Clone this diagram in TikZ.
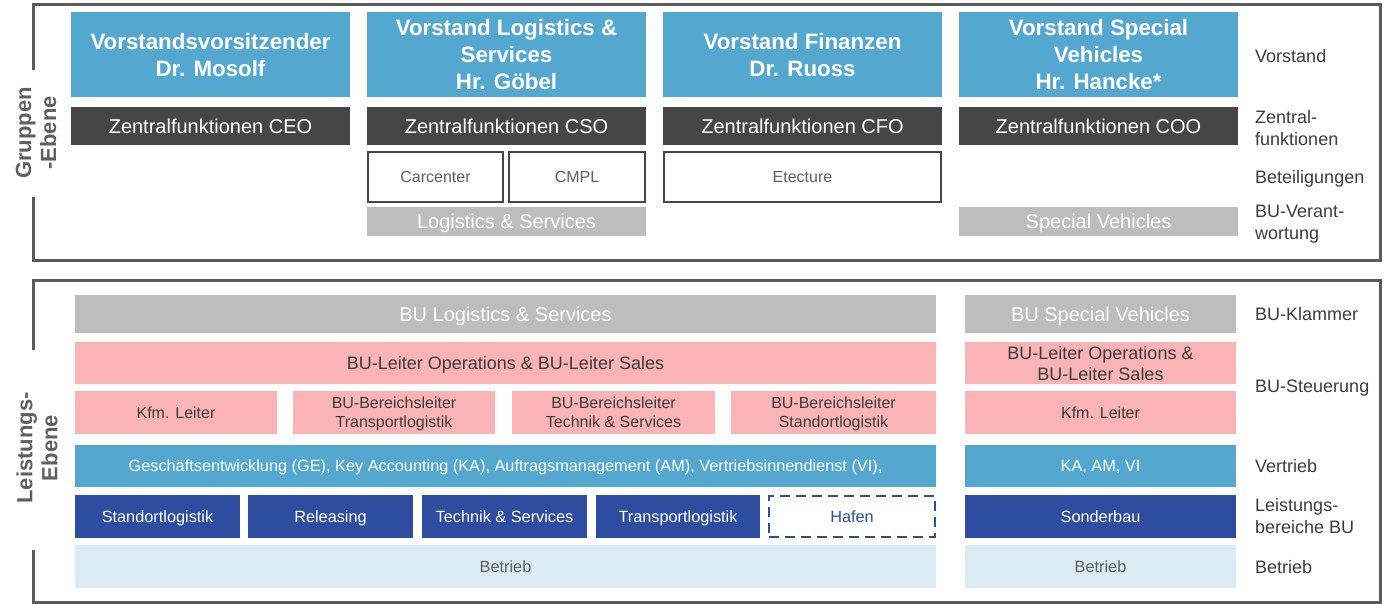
\documentclass[tikz,border=0pt]{standalone}
\usepackage{fontspec}
\setmainfont{Liberation Sans}
\definecolor{vblue}{RGB}{84,167,207}
\definecolor{dgray}{RGB}{70,70,70}
\definecolor{lgray}{RGB}{189,189,189}
\definecolor{pinkc}{RGB}{250,180,182}
\definecolor{nblue}{RGB}{46,77,161}
\definecolor{pblue}{RGB}{219,235,243}
\definecolor{frmc}{RGB}{90,90,90}
\definecolor{txt}{RGB}{60,60,60}
\definecolor{txtl}{RGB}{95,95,95}
\newcommand\bx[7]{\node[#6, minimum width={#4-#2}, minimum height={#5-#3}] (#1) at ({(#2+#4)/2},{(#3+#5)/2}) {#7};}
\tikzset{
 cell/.style={inner sep=0pt, align=center, text depth=0pt},
 vorst/.style={cell, fill=vblue, text=white, font=\fontsize{22.3}{27}\selectfont\bfseries},
 zent/.style={cell, fill=dgray, text=white, font=\fontsize{20}{24}\selectfont},
 beteil/.style={cell, fill=white, draw=dgray, line width=2.5pt, text=txtl, font=\fontsize{16}{19}\selectfont},
 buv/.style={cell, fill=lgray, text=white, font=\fontsize{20}{24}\selectfont},
 buk/.style={cell, fill=lgray, text=white, font=\fontsize{20}{24}\selectfont},
 leit/.style={cell, fill=pinkc, text=txt, font=\fontsize{18}{21}\selectfont},
 bber/.style={cell, fill=pinkc, text=txt, font=\fontsize{16}{19}\selectfont},
 vert/.style={cell, fill=vblue, text=white, font=\fontsize{16.3}{19}\selectfont},
 lb/.style={cell, fill=nblue, text=white, font=\fontsize{16.3}{19}\selectfont},
 hafen/.style={cell, fill=white, draw=nblue, dash pattern=on 10pt off 6pt, line width=2.5pt, text=nblue, font=\fontsize{16.3}{19}\selectfont},
 betr/.style={cell, fill=pblue, text=txtl, font=\fontsize{16.3}{19}\selectfont},
 lab/.style={inner sep=0pt, text depth=0pt, anchor=west, align=left, text=txt, font=\fontsize{18}{22}\selectfont},
 side/.style={inner sep=0pt, text depth=0pt, rotate=90, align=center, text=txtl, font=\fontsize{22}{25}\selectfont\bfseries},
 frm/.style={draw=frmc, line width=3pt},
}
\begin{document}
\begin{tikzpicture}[x=1pt,y=-1pt]
\useasboundingbox (0,0) rectangle (1389,604);
% frames
\draw[frm] (33,70) -- (33,5) -- (1380,5) -- (1380,260) -- (33,260) -- (33,197);
\draw[frm] (33,350) -- (33,280) -- (1380,280) -- (1380,602) -- (33,602) -- (33,550);
\node[side] (grp) at (36,133) {Gruppen\\-Ebene};
\node[side] (lst) at (37,448) {Leistungs-\\Ebene};
% Vorstand
\bx{v1}{71}{12}{350}{97}{vorst}{Vorstandsvorsitzender\\Dr. Mosolf}
\bx{v2}{367}{12}{646}{97}{vorst}{Vorstand Logistics \&\\Services\\Hr. Göbel}
\bx{v3}{663}{12}{942}{97}{vorst}{Vorstand Finanzen\\Dr. Ruoss}
\bx{v4}{959}{12}{1238}{97}{vorst}{Vorstand Special\\Vehicles\\Hr. Hancke*}
% Zentralfunktionen
\bx{z1}{71}{107}{350}{145}{zent}{Zentralfunktionen CEO}
\bx{z2}{367}{107}{646}{145}{zent}{Zentralfunktionen CSO}
\bx{z3}{663}{107}{942}{145}{zent}{Zentralfunktionen CFO}
\bx{z4}{959}{107}{1238}{145}{zent}{Zentralfunktionen COO}
% Beteiligungen
\bx{b1}{368}{152}{503}{202}{beteil}{Carcenter}
\bx{b2}{509}{152}{645}{202}{beteil}{CMPL}
\bx{b3}{664}{152}{941}{202}{beteil}{Etecture}
% BU-Verantwortung
\bx{u1}{367}{207}{646}{236}{buv}{Logistics \& Services}
\bx{u2}{959}{207}{1238}{236}{buv}{Special Vehicles}
% right labels top
\node[lab] (l1) at (1255,56) {Vorstand};
\node[lab] (l2) at (1255,128) {Zentral-\\funktionen};
\node[lab] (l3) at (1255,177) {Beteiligungen};
\node[lab] (l4) at (1255,222) {BU-Verant-\\wortung};
% bottom: BU-Klammer
\bx{k1}{75}{295}{936}{333}{buk}{BU Logistics \& Services}
\bx{k2}{965}{295}{1236}{333}{buk}{BU Special Vehicles}
% BU-Steuerung
\bx{s1}{75}{342}{936}{384}{leit}{BU-Leiter Operations \& BU-Leiter Sales}
\bx{s2}{965}{342}{1236}{384}{leit}{BU-Leiter Operations \&\\BU-Leiter Sales}
\bx{s3}{75}{391}{277}{434}{bber}{Kfm. Leiter}
\bx{s4}{293}{391}{495}{434}{bber}{BU-Bereichsleiter\\Transportlogistik}
\bx{s5}{512}{391}{715}{434}{bber}{BU-Bereichsleiter\\Technik \& Services}
\bx{s6}{731}{391}{936}{434}{bber}{BU-Bereichsleiter\\Standortlogistik}
\bx{s7}{965}{391}{1236}{434}{bber}{Kfm. Leiter}
% Vertrieb
\bx{t1}{75}{445}{936}{487}{vert}{Geschäftsentwicklung (GE), Key Accounting (KA), Auftragsmanagement (AM), Vertriebsinnendienst (VI),}
\bx{t2}{965}{445}{1236}{487}{vert}{KA, AM, VI}
% Leistungsbereiche
\bx{e1}{75}{495}{240}{538}{lb}{Standortlogistik}
\bx{e2}{248}{495}{413}{538}{lb}{Releasing}
\bx{e3}{422}{495}{587}{538}{lb}{Technik \& Services}
\bx{e4}{596}{495}{760}{538}{lb}{Transportlogistik}
\bx{e5}{769}{496}{935}{537}{hafen}{Hafen}
\bx{e6}{965}{495}{1236}{538}{lb}{Sonderbau}
% Betrieb
\bx{r1}{75}{545}{936}{588}{betr}{Betrieb}
\bx{r2}{965}{545}{1236}{588}{betr}{Betrieb}
% right labels bottom
\node[lab] (m1) at (1255,314) {BU-Klammer};
\node[lab] (m2) at (1255,386) {BU-Steuerung};
\node[lab] (m3) at (1255,466) {Vertrieb};
\node[lab] (m4) at (1255,516) {Leistungs-\\bereiche BU};
\node[lab] (m5) at (1255,567) {Betrieb};
\end{tikzpicture}
\end{document}
